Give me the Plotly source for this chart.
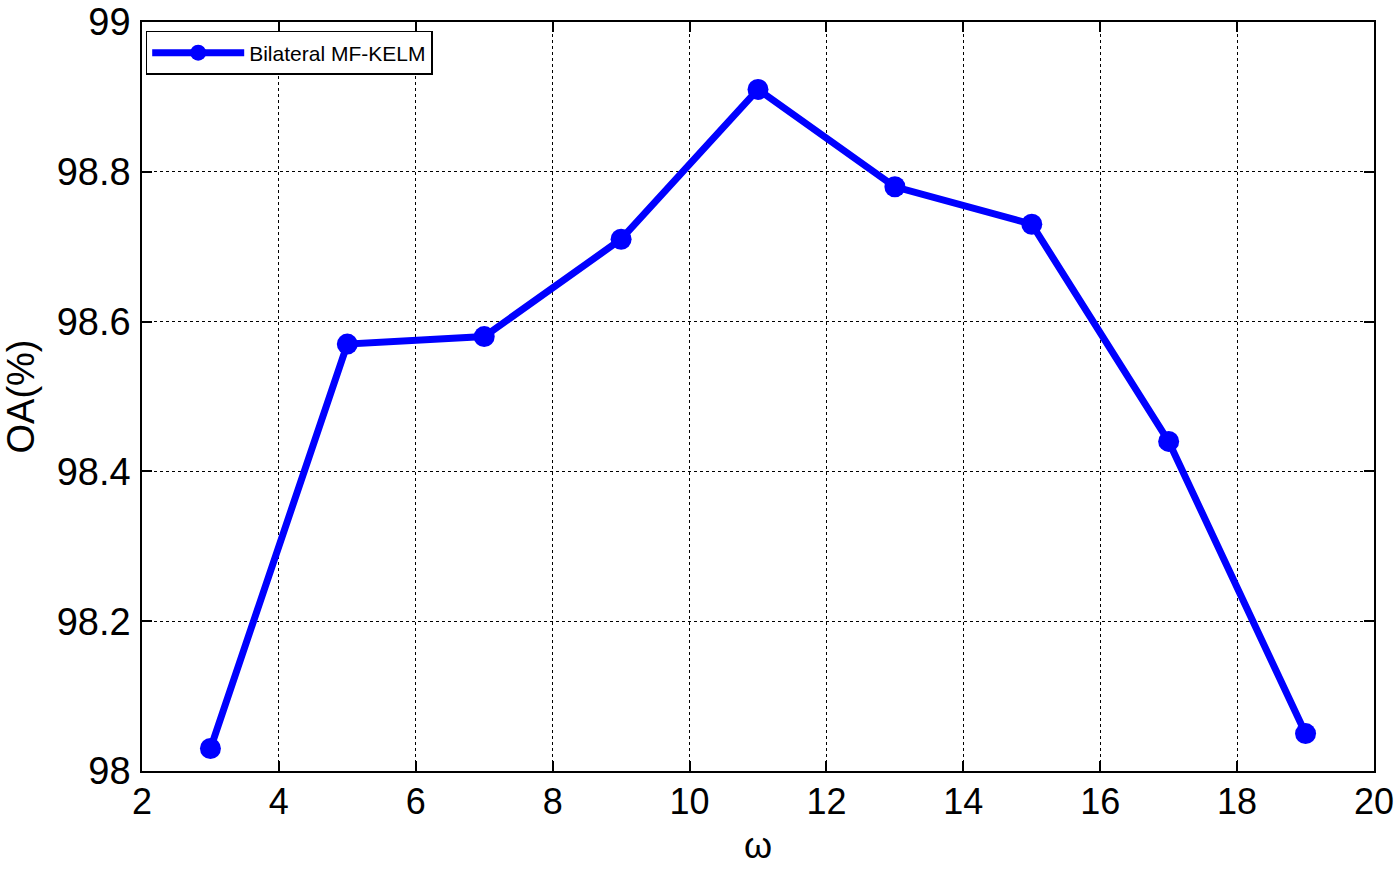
import plotly.graph_objects as go

omega = [3, 5, 7, 9, 11, 13, 15, 17, 19]
oa = [98.03, 98.57, 98.58, 98.71, 98.91, 98.78, 98.73, 98.44, 98.05]
x_ticks = [2, 4, 6, 8, 10, 12, 14, 16, 18, 20]
y_ticks = [98, 98.2, 98.4, 98.6, 98.8, 99]
y_tick_text = ["98", "98.2", "98.4", "98.6", "98.8", "99"]

FONT = "Liberation Sans, Arial"

fig = go.Figure()
fig.add_trace(go.Scatter(
    x=omega, y=oa, mode="lines+markers", name="Bilateral MF-KELM",
    line=dict(color="#0000ff", width=7),
    marker=dict(color="#0000ff", size=21),
))

axis_common = dict(
    showline=True, linecolor="black", linewidth=1.5, mirror="ticks",
    ticks="inside", ticklen=10, tickwidth=1.5, tickcolor="black",
    showgrid=True, gridcolor="black", griddash="dot", gridwidth=1,
    zeroline=False, automargin=False, ticklabeloverflow="allow",
)

fig.update_layout(
    width=1400, height=869,
    margin=dict(l=142, r=26, t=22, b=98),
    paper_bgcolor="white", plot_bgcolor="white",
    showlegend=True,
    legend=dict(
        x=0.003, y=0.988, xanchor="left", yanchor="top",
        bgcolor="white", bordercolor="black", borderwidth=1.5,
        font=dict(family=FONT, size=21, color="black"),
        itemwidth=92,
    ),
    xaxis=dict(range=[2, 20], tickvals=x_ticks, ticklabelstandoff=-2,
               tickfont=dict(family=FONT, size=36, color="black"),
               title=dict(text="ω", font=dict(family=FONT, size=36, color="black"), standoff=12),
               **axis_common),
    yaxis=dict(range=[98, 99], tickvals=y_ticks, ticktext=y_tick_text, ticklabelstandoff=2,
               tickfont=dict(family=FONT, size=38, color="black"),
               title=dict(text="OA(%)", font=dict(family=FONT, size=38, color="black"), standoff=12),
               **axis_common),
)

fig.write_html("out.html", config={"displayModeBar": False},
               post_script="document.body.style.margin='0';")
